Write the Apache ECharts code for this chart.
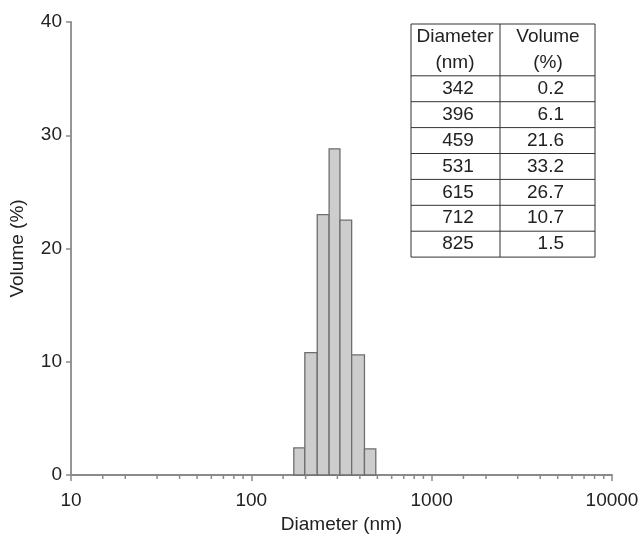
<!DOCTYPE html>
<html>
<head>
<meta charset="utf-8">
<style>
  html, body { margin: 0; padding: 0; background: #fff; }
  #chart { width: 638px; height: 534px; }
</style>
<script src="https://cdn.jsdelivr.net/npm/echarts@6/dist/echarts.min.js"></script>
</head>
<body>
<div id="chart"></div>
<script>
// histogram bins (nm) and volume (%)
var binEdges = [172, 198, 232, 270, 310, 360, 424, 490];
var binVolume = [2.4, 10.8, 23.0, 28.8, 22.5, 10.6, 2.3];

// inset table
var tableHeader = [['Diameter', 'Volume'], ['(nm)', '(%)']];
var tableDiameter = ['342', '396', '459', '531', '615', '712', '825'];
var tableVolume = ['0.2', '6.1', '21.6', '33.2', '26.7', '10.7', '1.5'];

// minor ticks of the log axis
var decades = [10, 100, 1000];
var minorSteps = [1.5, 2, 3, 4, 5, 6, 7, 8, 9];

var FONT = '"Liberation Sans", Arial, Helvetica, sans-serif';
var FS = 19;
var AXIS = '#8a8a8a';
var TXT = '#222';

var bars = binVolume.map(function (v, i) { return [binEdges[i], binEdges[i + 1], v]; });
var minor = [];
decades.forEach(function (d) { minorSteps.forEach(function (m) { minor.push([d * m, 0]); }); });

var myChart = echarts.init(document.getElementById('chart'));

// table built with graphic elements
function buildTable() {
    var x0 = 411, x1 = 500, x2 = 595, y0 = 24, rowH = 25.9;
    var rows = tableHeader.length + tableDiameter.length;
    var els = [];
    var line = function (ax, ay, bx, by) {
        return { type: 'line', shape: { x1: ax, y1: ay, x2: bx, y2: by }, style: { stroke: '#333', lineWidth: 1 }, silent: true };
    };
    els.push({ type: 'rect', shape: { x: x0, y: y0, width: x2 - x0, height: rows * rowH },
        style: { fill: '#fff', stroke: '#333', lineWidth: 1 } });
    els.push(line(x1, y0, x1, y0 + rows * rowH));
    for (var r = 2; r < rows; r++) {
        els.push(line(x0, y0 + r * rowH, x2, y0 + r * rowH));
    }
    var txt = function (s, x, y, align) {
        return { type: 'text', x: x, y: y, style: { text: s, font: FS + 'px ' + FONT, fill: TXT, align: align, verticalAlign: 'middle' } };
    };
    tableHeader.forEach(function (h, r) {
        var cy = y0 + (r + 0.5) * rowH;
        els.push(txt(h[0], 455, cy, 'center'));
        els.push(txt(h[1], 548, cy, 'center'));
    });
    tableDiameter.forEach(function (d, i) {
        var cy = y0 + (i + 2.5) * rowH;
        els.push(txt(d, 458, cy, 'center'));
        els.push(txt(tableVolume[i], 564, cy, 'right'));
    });
    return els;
}

var options = {
    animation: false,
    grid: { left: 71, right: 26, top: 22, bottom: 59, containLabel: false, outerBoundsMode: 'none' },
    xAxis: {
        type: 'log',
        logBase: 10,
        min: 10,
        max: 10000,
        interval: 1,
        name: 'Diameter (nm)',
        nameLocation: 'middle',
        nameGap: 37,
        nameTextStyle: { fontFamily: FONT, fontSize: FS, color: TXT },
        axisLine: { lineStyle: { color: AXIS, width: 1.8 } },
        axisTick: { show: true, inside: false, length: 6, lineStyle: { color: AXIS, width: 1.5 } },
        axisLabel: {
            margin: 16,
            fontFamily: FONT, fontSize: FS, color: TXT,
            formatter: function (v) { return String(Math.round(v)); }
        },
        splitLine: { show: false }
    },
    yAxis: {
        type: 'value',
        min: 0,
        max: 40,
        interval: 10,
        name: 'Volume (%)',
        nameLocation: 'middle',
        nameGap: 44,
        nameTextStyle: { fontFamily: FONT, fontSize: FS, color: TXT },
        axisLine: { show: true, lineStyle: { color: AXIS, width: 1.8 } },
        axisTick: { show: true, inside: false, length: 5, lineStyle: { color: AXIS, width: 1.5 } },
        axisLabel: { margin: 9, fontFamily: FONT, fontSize: FS, color: TXT },
        splitLine: { show: false }
    },
    series: [
        {
            name: 'Volume',
            type: 'custom',
            renderItem: function (params, api) {
                var a = api.coord([api.value(0), api.value(2)]);
                var b = api.coord([api.value(1), 0]);
                return {
                    type: 'rect',
                    shape: { x: a[0], y: a[1], width: b[0] - a[0], height: b[1] - a[1] },
                    style: { fill: '#cdcdcd', stroke: '#6e6e6e', lineWidth: 1.3 }
                };
            },
            encode: { x: [0, 1], y: 2 },
            data: bars,
            z: 1
        },
        {
            name: 'minor',
            type: 'custom',
            silent: true,
            renderItem: function (params, api) {
                var p = api.coord([api.value(0), 0]);
                return {
                    type: 'line',
                    shape: { x1: p[0], y1: p[1], x2: p[0], y2: p[1] + 4 },
                    style: { stroke: AXIS, lineWidth: 1.5 }
                };
            },
            encode: { x: 0, y: 1 },
            data: minor,
            clip: false,
            z: 3
        }
    ],
    graphic: buildTable()
};
myChart.setOption(options);
</script>
</body>
</html>
